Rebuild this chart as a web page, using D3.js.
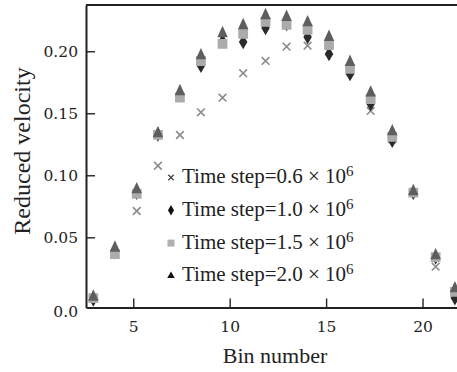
<!DOCTYPE html>
<html>
<head>
<meta charset="utf-8">
<script src="https://cdn.jsdelivr.net/npm/d3@7"></script>
<style>
  body { margin: 0; background: #fff; }
  svg { display: block; }
</style>
</head>
<body>
<svg id="chart" width="457" height="372"></svg>
<script>
// bin centres
const binNumbers = [2.93, 4.05, 5.18, 6.28, 7.42, 8.51, 9.63, 10.70, 11.86, 12.95, 14.04, 15.15, 16.24, 17.31, 18.43, 19.52, 20.68, 21.68];

// reduced velocity per time step
const step06 = [0.001, 0.036, 0.0712, 0.1077, 0.1325, 0.1508, 0.1626, 0.1823, 0.1922, 0.2037, 0.2045, 0.200, 0.184, 0.1519, 0.129, 0.086, 0.0263, 0.004];
const step10 = [0.000, 0.038, 0.086, 0.133, 0.165, 0.1884, 0.208, 0.2075, 0.2188, 0.222, 0.2115, 0.1978, 0.1817, 0.1575, 0.1279, 0.086, 0.034, 0.001];
const step15 = [0.001, 0.0365, 0.085, 0.1325, 0.1626, 0.192, 0.206, 0.214, 0.2236, 0.2212, 0.2172, 0.205, 0.1857, 0.1615, 0.1309, 0.086, 0.034, 0.006];
const step20 = [0.002, 0.0414, 0.0885, 0.1337, 0.1676, 0.1966, 0.2144, 0.2208, 0.2289, 0.2275, 0.2232, 0.2114, 0.1912, 0.1665, 0.1353, 0.087, 0.0353, 0.0087];

const seriesNames = ["0.6", "1.0", "1.5", "2.0"];
const xTicks = [5, 10, 15, 20];
const yTicks = [0, 0.05, 0.10, 0.15, 0.20];
const yTickLabels = ["0.0", "0.05", "0.10", "0.15", "0.20"];

const svg = d3.select("#chart");
const plotLeft = 86, plotTop = 5, plotBottom = 307.5, plotRight = 464;

const x = d3.scaleLinear().domain([2.55, 22.15]).range([plotLeft, plotRight]);
const y = d3.scaleLinear().domain([-0.0066, 0.2373]).range([plotBottom, plotTop]);

const serif = "'Liberation Serif', 'Times New Roman', serif";
const tickFont = "'DejaVu Serif', serif";

// frame
svg.append("line").attr("x1", plotLeft).attr("x2", 457).attr("y1", plotTop).attr("y2", plotTop)
    .attr("stroke", "#222").attr("stroke-width", 2);

const gx = svg.append("g").attr("transform", "translate(0," + plotBottom + ")")
    .call(d3.axisBottom(x).tickValues(xTicks).tickSizeInner(-9).tickSizeOuter(0).tickPadding(13));
const yTickPos = yTicks.map(function (v) { return v === 0 ? y.domain()[0] : v; });
const gy = svg.append("g").attr("transform", "translate(" + plotLeft + ",0)")
    .call(d3.axisLeft(y).tickValues(yTickPos).tickSizeInner(-9).tickSizeOuter(0).tickPadding(8)
        .tickFormat(function (d, i) { return yTickLabels[i]; }));

[gx, gy].forEach(function (g) {
    g.select(".domain").attr("stroke", "#222").attr("stroke-width", 2);
    g.selectAll(".tick line").attr("stroke", "#222").attr("stroke-width", 1.4);
    g.selectAll(".tick text").attr("fill", "#222").style("font-family", tickFont).style("font-size", "15.5px");
});
gy.selectAll(".tick").filter(function (d, i) { return i === 0; }).select("line").remove();
gy.selectAll(".tick").filter(function (d, i) { return i === 0; }).select("text").attr("dy", "0.6em");

// axis titles
svg.append("text").attr("x", 275).attr("y", 363).attr("text-anchor", "middle")
    .style("font-family", serif).style("font-size", "22px").attr("fill", "#222").text("Bin number");
svg.append("text").attr("transform", "translate(30,151) rotate(-90)").attr("text-anchor", "middle")
    .style("font-family", serif).style("font-size", "24px").attr("fill", "#222").text("Reduced velocity");

// markers
svg.append("clipPath").attr("id", "plot").append("rect")
    .attr("x", plotLeft).attr("y", plotTop).attr("width", plotRight - plotLeft).attr("height", plotBottom - plotTop);
const plot = svg.append("g").attr("clip-path", "url(#plot)");

const series = [
    { values: step06, draw: "cross", color: "#8c8c8c" },
    { values: step10, draw: "diamond", color: "#2a2a2a" },
    { values: step15, draw: "square", color: "#ababab" },
    { values: step20, draw: "triangle", color: "#5e5e5e" }
];

function markerPath(kind, scale) {
    if (kind === "cross") return d3.symbol().type(d3.symbolTimes).size(40 * scale * scale)();
    if (kind === "diamond") return d3.symbol().type(d3.symbolDiamond).size(62 * scale * scale)();
    if (kind === "square") return d3.symbol().type(d3.symbolSquare).size(95 * scale * scale)();
    return d3.symbol().type(d3.symbolTriangle).size(48 * scale * scale)();
}

series.forEach(function (s) {
    plot.append("g").selectAll("path")
        .data(s.values)
        .join("path")
        .attr("transform", function (d, i) {
            let t = "translate(" + x(binNumbers[i]) + "," + y(d) + ")";
            if (s.draw === "triangle") t += " scale(1,1.25)";
            return t;
        })
        .attr("d", markerPath(s.draw, 1))
        .attr("fill", s.draw === "cross" ? "none" : s.color)
        .attr("stroke", s.draw === "cross" ? s.color : "none")
        .attr("stroke-width", 1.6);
});

// legend
const legendColors = ["#444", "#111", "#b0b0b0", "#111"];
const legendKinds = ["cross", "diamond", "square", "triangle"];
const legend = svg.append("g");
seriesNames.forEach(function (name, i) {
    const base = 183 + i * 32.8;
    legend.append("path")
        .attr("transform", "translate(171," + (base - 5.5) + ")")
        .attr("d", markerPath(legendKinds[i], 0.72))
        .attr("fill", legendKinds[i] === "cross" ? "none" : legendColors[i])
        .attr("stroke", legendKinds[i] === "cross" ? legendColors[i] : "none")
        .attr("stroke-width", 1.3);
    const t = legend.append("text").attr("x", 182).attr("y", base)
        .style("font-family", serif).style("font-size", "21px").attr("fill", "#222");
    t.append("tspan").text("Time step=" + name + " \u00d7 10");
    t.append("tspan").attr("dy", -7).style("font-size", "15px").text("6");
});
</script>
</body>
</html>
